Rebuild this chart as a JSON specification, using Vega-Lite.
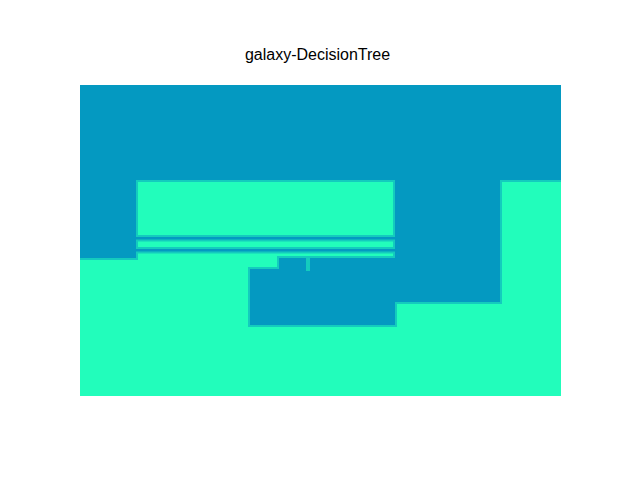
{
  "$schema": "https://vega.github.io/schema/vega-lite/v6.json",
  "width": 481,
  "height": 311,
  "autosize": {"type": "none"},
  "padding": {"left": 80, "top": 85, "right": 79, "bottom": 84},
  "background": "white",
  "title": {
    "text": "galaxy-DecisionTree",
    "font": "Liberation Sans",
    "fontSize": 16,
    "fontWeight": "normal",
    "color": "black",
    "anchor": "middle",
    "baseline": "alphabetic",
    "offset": 9,
    "dx": -3
  },
  "config": {"view": {"stroke": null}},
  "data": {
    "values": [
      {"x": 0, "x2": 481, "y": 216, "y2": 311},
      {"x": 0, "x2": 56, "y": 138, "y2": 216},
      {"x": 56, "x2": 315, "y": 156.5, "y2": 159},
      {"x": 56, "x2": 315, "y": 144.5, "y2": 147},
      {"x": 315, "x2": 420, "y": 94, "y2": 216},
      {"x": 170, "x2": 315, "y": 71, "y2": 125},
      {"x": 170, "x2": 199, "y": 125, "y2": 127},
      {"x": 199, "x2": 226, "y": 125, "y2": 138},
      {"x": 230, "x2": 315, "y": 125, "y2": 138}
    ]
  },
  "encoding": {
    "x": {"field": "x", "type": "quantitative", "scale": {"domain": [0, 481], "nice": false, "zero": false}, "axis": null},
    "x2": {"field": "x2"},
    "y": {"field": "y", "type": "quantitative", "scale": {"domain": [0, 311], "nice": false, "zero": false}, "axis": null},
    "y2": {"field": "y2"}
  },
  "layer": [
    {
      "data": {"values": [{"x": 0, "x2": 481, "y": 0, "y2": 311}]},
      "mark": {"type": "rect", "color": "#22fdbb", "stroke": null}
    },
    {
      "mark": {"type": "rect", "color": "#0499c1", "stroke": "#14cbbe", "strokeWidth": 4, "clip": true}
    },
    {
      "mark": {"type": "rect", "color": "#0499c1", "stroke": null}
    }
  ]
}
